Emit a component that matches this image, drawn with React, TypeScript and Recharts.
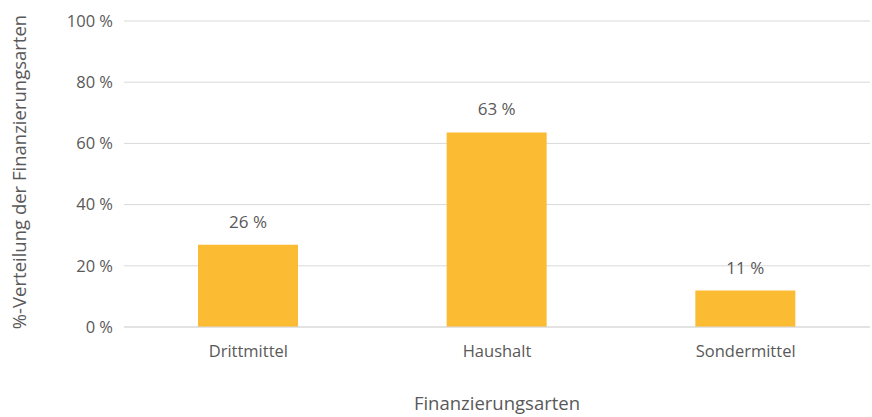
import React from 'react';
import { BarChart, Bar, XAxis, YAxis, CartesianGrid, LabelList, Label } from 'recharts';

const categories = ['Drittmittel', 'Haushalt', 'Sondermittel'];
const shares = [26.9, 63.6, 11.9];
const shareLabels = ['26 %', '63 %', '11 %'];
const yTicks = [0, 20, 40, 60, 80, 100];
const xTitle = 'Finanzierungsarten';
const yTitle = '%-Verteilung der Finanzierungsarten';

const data = categories.map((name, i) => ({ name, value: shares[i], label: shareLabels[i] }));

const FONT = '"Open Sans", sans-serif';
const TEXT = '#595959';

export default function App() {
  return (
    <div style={{ position: 'absolute', left: 0, top: 0, background: '#fff' }}>
      <BarChart
        width={872}
        height={417}
        data={data}
        margin={{ top: 21, right: 2, bottom: 0, left: 0 }}
        barCategoryGap="30%"
        style={{ fontFamily: FONT }}
      >
        <CartesianGrid vertical={false} stroke="#d9d9d9" strokeWidth={1} />
        <XAxis
          dataKey="name"
          height={90}
          axisLine={{ stroke: '#d9d9d9' }}
          tickLine={false}
          tickSize={0}
          tickMargin={18}
          tick={{ fill: TEXT, fontSize: 16.5, fontFamily: FONT }}
        >
          <Label value={xTitle} position="insideBottom" offset={7} fill={TEXT} fontSize={18.5} fontFamily={FONT} />
        </XAxis>
        <YAxis
          width={124}
          domain={[0, 100]}
          ticks={yTicks}
          interval={0}
          axisLine={false}
          tickLine={false}
          tickSize={0}
          tickMargin={11}
          tickFormatter={(v: number) => `${v} %`}
          tick={{ fill: TEXT, fontSize: 16.5, fontFamily: FONT }}
        >
          <Label value={yTitle} angle={-90} position="center" dx={-43} dy={-2} fill={TEXT} fontSize={18.5} fontFamily={FONT} />
        </YAxis>
        <Bar dataKey="value" fill="#FBBC34" isAnimationActive={false} barSize={100}>
          <LabelList dataKey="label" position="top" offset={17} fill={TEXT} fontSize={17} fontFamily={FONT} />
        </Bar>
      </BarChart>
    </div>
  );
}
